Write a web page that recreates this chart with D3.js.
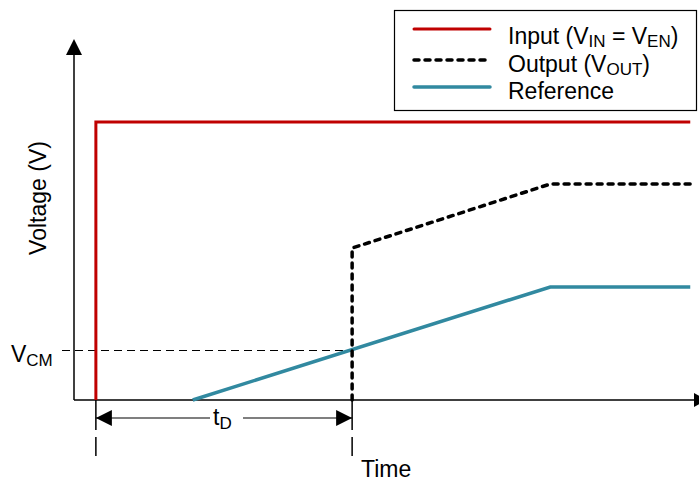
<!DOCTYPE html>
<html>
<head>
<meta charset="utf-8">
<script src="https://cdn.jsdelivr.net/npm/d3@7"></script>
<style>
  html, body { margin: 0; padding: 0; background: #fff; }
  svg { display: block; font-family: Arial, "Liberation Sans", sans-serif; }
</style>
</head>
<body>
<svg id="chart" width="699" height="481"></svg>
<script>
// Time-domain waveforms (arbitrary units)
const inputTime = [3.5, 3.5, 98.6];
const inputVolt = [0, 77.2, 77.2];
const outputTime = [44.5, 44.5, 76.2, 98.6];
const outputVolt = [0, 42.2, 60, 60];
const refTime = [19, 76.2, 98.6];
const refVolt = [0, 31.4, 31.4];
const vcmLevel = 13.9;
const delayStart = 3.5;
const delayEnd = 44.5;
const legendLabels = ["Input", "Output", "Reference"];
const colors = { input: "#C00000", output: "#000000", ref: "#3189A0" };

const FS = 23, SUB = 17;
const svg = d3.select("#chart");
const x = d3.scaleLinear().domain([0, 100]).range([74, 699]);
const y = d3.scaleLinear().domain([0, 100]).range([400, 40]);

const pts = (ts, vs) => ts.map((t, i) => [t, vs[i]]);
const line = d3.line().x(d => x(d[0])).y(d => y(d[1]));

// Axes with arrowheads
svg.append("line").attr("x1", x(0)).attr("x2", x(0)).attr("y1", y(0)).attr("y2", y(0) - 345)
  .attr("stroke", "#000").attr("stroke-width", 1.5);
svg.append("path").attr("d", `M${x(0)},${y(0) - 361} L${x(0) - 8},${y(0) - 345} L${x(0) + 8},${y(0) - 345} Z`).attr("fill", "#000");
svg.append("line").attr("x1", x(0)).attr("x2", 694).attr("y1", y(0)).attr("y2", y(0))
  .attr("stroke", "#000").attr("stroke-width", 1.5);
svg.append("path").attr("d", `M${707},${y(0)} L${694},${y(0) - 7} L${694},${y(0) + 7} Z`).attr("fill", "#000");

// VCM reference level
svg.append("line").attr("x1", 62).attr("x2", x(delayEnd)).attr("y1", Math.round(y(vcmLevel)) + 0.5).attr("y2", Math.round(y(vcmLevel)) + 0.5)
  .attr("stroke", "#000").attr("stroke-width", 1.2).attr("stroke-dasharray", "8 5");
const vcm = svg.append("text").attr("x", 11).attr("y", y(vcmLevel) + 12).attr("font-size", FS).attr("fill", "#000");
vcm.append("tspan").text("V");
vcm.append("tspan").attr("font-size", SUB).attr("dy", 4).text("CM");

// Delay markers below the axis
[delayStart, delayEnd].forEach(t => {
  svg.append("line").attr("x1", x(t)).attr("x2", x(t)).attr("y1", y(0)).attr("y2", 456)
    .attr("stroke", "#000").attr("stroke-width", 1.5).attr("stroke-dasharray", "30 7");
});
const ay = 418;
svg.append("line").attr("x1", x(delayStart)).attr("x2", x(delayEnd)).attr("y1", ay).attr("y2", ay)
  .attr("stroke", "#000").attr("stroke-width", 1.2);
svg.append("path").attr("d", `M${x(delayStart)},${ay} L${x(delayStart) + 16},${ay - 8} L${x(delayStart) + 16},${ay + 8} Z`).attr("fill", "#000");
svg.append("path").attr("d", `M${x(delayEnd)},${ay} L${x(delayEnd) - 16},${ay - 8} L${x(delayEnd) - 16},${ay + 8} Z`).attr("fill", "#000");
const tdx = (x(delayStart) + x(delayEnd)) / 2 - 11;
svg.append("rect").attr("x", tdx - 3).attr("y", ay - 6).attr("width", 33).attr("height", 12).attr("fill", "#fff");
const td = svg.append("text").attr("x", tdx).attr("y", ay + 7).attr("font-size", FS).attr("fill", "#000");
td.append("tspan").text("t");
td.append("tspan").attr("font-size", SUB).attr("dy", 4).text("D");

// Waveforms
svg.append("path").datum(pts(refTime, refVolt)).attr("d", line)
  .attr("fill", "none").attr("stroke", colors.ref).attr("stroke-width", 3.5);
svg.append("path").datum(pts(inputTime, inputVolt)).attr("d", line)
  .attr("fill", "none").attr("stroke", colors.input).attr("stroke-width", 3);
svg.append("path").datum(pts(outputTime, outputVolt)).attr("d", line)
  .attr("fill", "none").attr("stroke", colors.output).attr("stroke-width", 3.5)
  .attr("stroke-dasharray", "5 6").attr("stroke-linecap", "round");

// Axis titles
svg.append("text").attr("x", 361).attr("y", 477).attr("font-size", FS).text("Time");
svg.append("text").attr("transform", "translate(46,198) rotate(-90)").attr("text-anchor", "middle")
  .attr("font-size", FS).text("Voltage (V)");

// Legend
const lg = svg.append("g");
lg.append("rect").attr("x", 394.5).attr("y", 10.5).attr("width", 302).attr("height", 100)
  .attr("fill", "#fff").attr("stroke", "#000").attr("stroke-width", 1.2);
const rows = [
  { y: 29, color: colors.input, dash: null, w: 3 },
  { y: 60, color: colors.output, dash: "5 6", w: 3.5 },
  { y: 87, color: colors.ref, dash: null, w: 3.5 }
];
rows.forEach(r => {
  lg.append("line").attr("x1", 414).attr("x2", 490).attr("y1", r.y).attr("y2", r.y)
    .attr("stroke", r.color).attr("stroke-width", r.w)
    .attr("stroke-dasharray", r.dash).attr("stroke-linecap", "round");
});
const t1 = lg.append("text").attr("x", 508).attr("y", 44).attr("font-size", FS);
t1.append("tspan").text(legendLabels[0] + " (V");
t1.append("tspan").attr("font-size", SUB).attr("dy", 3).text("IN");
t1.append("tspan").attr("dy", -3).text(" = V");
t1.append("tspan").attr("font-size", SUB).attr("dy", 3).text("EN");
t1.append("tspan").attr("dy", -3).text(")");
const t2 = lg.append("text").attr("x", 508).attr("y", 72).attr("font-size", FS);
t2.append("tspan").text(legendLabels[1] + " (V");
t2.append("tspan").attr("font-size", SUB).attr("dy", 3).text("OUT");
t2.append("tspan").attr("dy", -3).text(")");
lg.append("text").attr("x", 508).attr("y", 99).attr("font-size", FS).text(legendLabels[2]);
</script>
</body>
</html>
